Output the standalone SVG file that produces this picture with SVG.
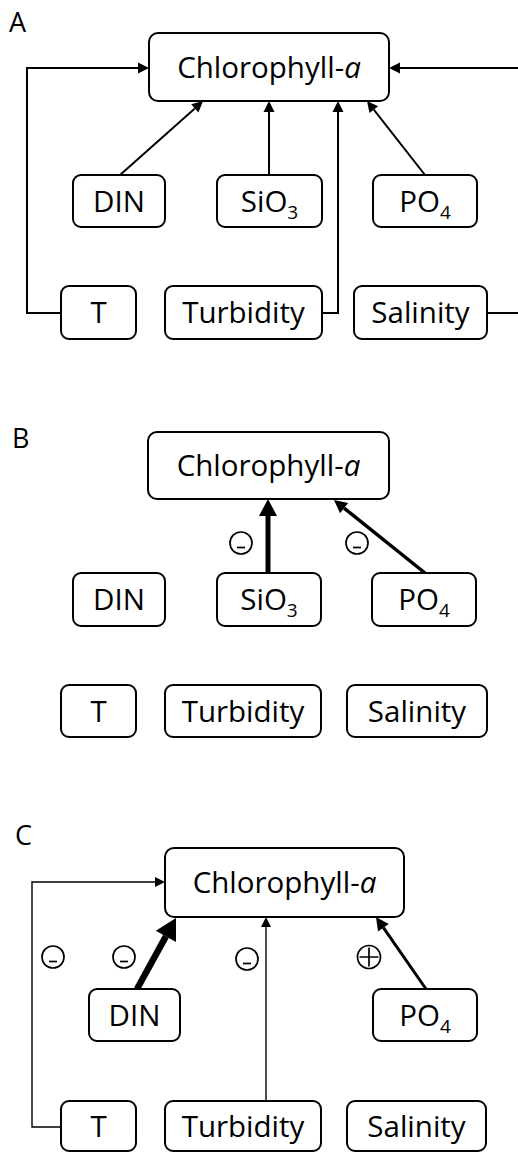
<svg xmlns="http://www.w3.org/2000/svg" width="518" height="1152" viewBox="0 0 518 1152">
<style>
.box{fill:#fff;stroke:#000;stroke-width:2}
.t{font-family:"Open Sans","Liberation Sans",sans-serif;font-size:29.5px;text-anchor:middle;fill:#000}
.lbl{font-family:"Open Sans","Liberation Sans",sans-serif;font-size:27px;fill:#000}
.sub{font-size:19px}
.c{fill:none;stroke:#000;stroke-linejoin:miter}
.sym{fill:none;stroke:#000;stroke-width:1.7}
</style>
<defs>
<marker id="hA" markerUnits="userSpaceOnUse" orient="auto" overflow="visible" markerWidth="12" markerHeight="12"><path d="M0,-5.5 L11,0 L0,5.5 Z"/></marker>
<marker id="hThin" markerUnits="userSpaceOnUse" orient="auto" overflow="visible" markerWidth="12" markerHeight="12"><path d="M0,-5 L10,0 L0,5 Z"/></marker>
<marker id="hMid" markerUnits="userSpaceOnUse" orient="auto" overflow="visible" markerWidth="14" markerHeight="14"><path d="M0,-6.5 L13,0 L0,6.5 Z"/></marker>
<marker id="hBig" markerUnits="userSpaceOnUse" orient="auto" overflow="visible" markerWidth="18" markerHeight="18"><path d="M0,-9 L17,0 L0,9 Z"/></marker>
<marker id="hHuge" markerUnits="userSpaceOnUse" orient="auto" overflow="visible" markerWidth="24" markerHeight="24"><path d="M0,-11.5 L21,0 L0,11.5 Z"/></marker>
</defs>
<rect width="518" height="1152" fill="#fff"/>

<g id="labels">
<text class="lbl" x="9" y="32">A</text>
<text class="lbl" x="12" y="448">B</text>
<text class="lbl" x="15" y="845">C</text>
</g>

<g id="connectors">
<!-- Panel A -->
<path class="c" stroke-width="2" d="M61,313 H27 V68 H138" marker-end="url(#hA)"/>
<path class="c" stroke-width="2" d="M487,313 H522 V68 H400" marker-end="url(#hA)"/>
<path class="c" stroke-width="2" d="M120,175 L194.8,108.4" marker-end="url(#hA)"/>
<path class="c" stroke-width="2" d="M269,175 V112" marker-end="url(#hA)"/>
<path class="c" stroke-width="2" d="M322,313 H338 V112" marker-end="url(#hA)"/>
<path class="c" stroke-width="2" d="M425,175 L373.8,109.7" marker-end="url(#hA)"/>
<!-- Panel B -->
<path class="c" stroke-width="5" d="M268,573 V516" marker-end="url(#hBig)"/>
<path class="c" stroke-width="3.5" d="M425,573 L344.1,508.1" marker-end="url(#hMid)"/>
<!-- Panel C -->
<path class="c" stroke-width="1.4" d="M61,1127 H32 V882 H155" marker-end="url(#hThin)"/>
<path class="c" stroke-width="6.5" d="M137,989 L165.9,936.4" marker-end="url(#hHuge)"/>
<path class="c" stroke-width="1.4" d="M266,1101 V927" marker-end="url(#hThin)"/>
<path class="c" stroke-width="3" d="M426,989 L383.4,927.7" marker-end="url(#hMid)"/>
</g>

<g id="signs">
<g id="sB1"><circle class="sym" cx="241" cy="543" r="11"/><path class="sym" stroke-width="2.4" d="M237,547.5 H245"/></g>
<g id="sB2"><circle class="sym" cx="357" cy="543" r="11"/><path class="sym" stroke-width="2.4" d="M353,547.5 H361"/></g>
<g id="sC1"><circle class="sym" cx="53" cy="957" r="11"/><path class="sym" stroke-width="2.4" d="M49,961.5 H57"/></g>
<g id="sC2"><circle class="sym" cx="124" cy="957" r="11"/><path class="sym" stroke-width="2.4" d="M120,961.5 H128"/></g>
<g id="sC3"><circle class="sym" cx="247" cy="959" r="11"/><path class="sym" stroke-width="2.4" d="M243,963.5 H251"/></g>
<g id="sC4"><circle class="sym" cx="369" cy="957" r="11.5"/><path class="sym" stroke-width="2.4" d="M359.5,957 H378.5 M369,947.5 V966.5"/></g>
</g>

<!-- Panel A nodes -->
<g id="A_chl"><rect class="box" x="149" y="33" width="240" height="68" rx="9"/><text class="t" x="269" y="78">Chlorophyll-<tspan font-style="italic">a</tspan></text></g>
<g id="A_din"><rect class="box" x="73" y="175" width="92" height="52" rx="8"/><text class="t" x="119" y="211.5">DIN</text></g>
<g id="A_sio3"><rect class="box" x="217" y="175" width="105" height="52" rx="8"/><text class="t" x="269.5" y="211.5">SiO<tspan class="sub" dy="7">3</tspan></text></g>
<g id="A_po4"><rect class="box" x="373" y="175" width="104" height="52" rx="8"/><text class="t" x="425" y="211.5">PO<tspan class="sub" dy="7">4</tspan></text></g>
<g id="A_t"><rect class="box" x="61" y="286" width="75" height="53" rx="8"/><text class="t" x="98.5" y="323">T</text></g>
<g id="A_turb"><rect class="box" x="165" y="286" width="157" height="53" rx="8"/><text class="t" x="243.5" y="323">Turbidity</text></g>
<g id="A_sal"><rect class="box" x="354" y="286" width="133" height="53" rx="8"/><text class="t" x="420.5" y="323">Salinity</text></g>

<!-- Panel B nodes -->
<g id="B_chl"><rect class="box" x="148" y="432" width="241" height="67" rx="9"/><text class="t" x="268.5" y="476">Chlorophyll-<tspan font-style="italic">a</tspan></text></g>
<g id="B_din"><rect class="box" x="73" y="573" width="92" height="53" rx="8"/><text class="t" x="119" y="610">DIN</text></g>
<g id="B_sio3"><rect class="box" x="217" y="573" width="104" height="53" rx="8"/><text class="t" x="269" y="610">SiO<tspan class="sub" dy="7">3</tspan></text></g>
<g id="B_po4"><rect class="box" x="372" y="573" width="104" height="53" rx="8"/><text class="t" x="424" y="610">PO<tspan class="sub" dy="7">4</tspan></text></g>
<g id="B_t"><rect class="box" x="61" y="685" width="75" height="52" rx="8"/><text class="t" x="98.5" y="721.5">T</text></g>
<g id="B_turb"><rect class="box" x="165" y="685" width="156" height="52" rx="8"/><text class="t" x="243" y="721.5">Turbidity</text></g>
<g id="B_sal"><rect class="box" x="347" y="685" width="140" height="52" rx="8"/><text class="t" x="417" y="721.5">Salinity</text></g>

<!-- Panel C nodes -->
<g id="C_chl"><rect class="box" x="165" y="848" width="239" height="69" rx="9"/><text class="t" x="284.5" y="893">Chlorophyll-<tspan font-style="italic">a</tspan></text></g>
<g id="C_din"><rect class="box" x="89" y="989" width="91" height="52" rx="8"/><text class="t" x="134.5" y="1025.5">DIN</text></g>
<g id="C_po4"><rect class="box" x="373" y="989" width="104" height="52" rx="8"/><text class="t" x="425" y="1025.5">PO<tspan class="sub" dy="7">4</tspan></text></g>
<g id="C_t"><rect class="box" x="61" y="1101" width="75" height="50" rx="8"/><text class="t" x="98.5" y="1136.5">T</text></g>
<g id="C_turb"><rect class="box" x="165" y="1101" width="156" height="50" rx="8"/><text class="t" x="243" y="1136.5">Turbidity</text></g>
<g id="C_sal"><rect class="box" x="347" y="1101" width="139" height="50" rx="8"/><text class="t" x="416.5" y="1136.5">Salinity</text></g>
</svg>
